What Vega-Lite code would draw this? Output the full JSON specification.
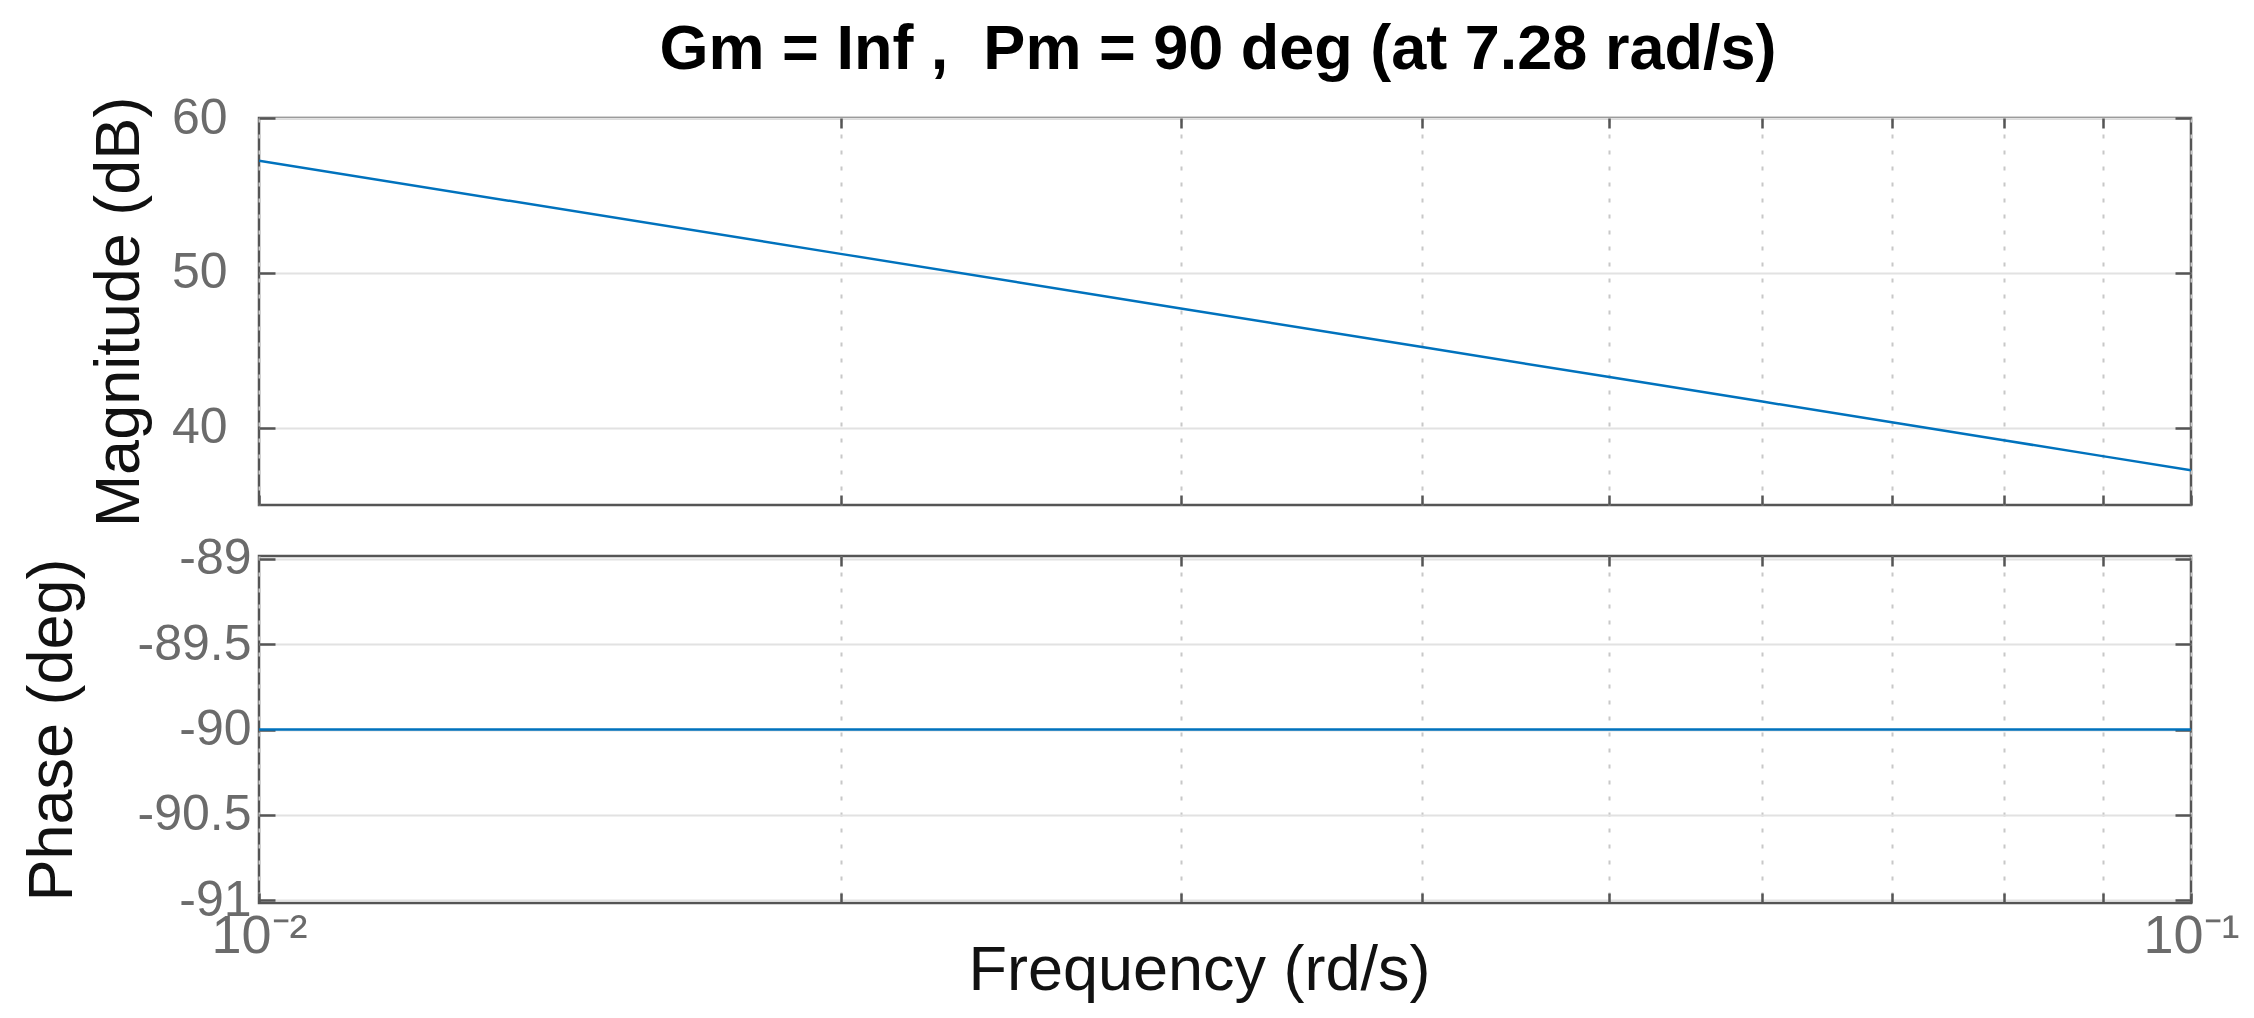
{
  "$schema": "https://vega.github.io/schema/vega-lite/v6.json",
  "background": "white",
  "padding": {"left": 19, "top": 18, "right": 10, "bottom": 5},
  "title": {"text": "Gm = Inf ,\u00a0 Pm = 90 deg (at 7.28 rad/s)", "font": "Liberation Sans", "fontSize": 63, "fontWeight": "bold", "color": "#000000", "anchor": "middle", "offset": 10, "dx": 88},
  "datasets": {
    "mag": [
      {"w": 0.01, "mag": 57.243},
      {"w": 0.02, "mag": 51.222},
      {"w": 0.03, "mag": 47.700},
      {"w": 0.04, "mag": 45.201},
      {"w": 0.05, "mag": 43.263},
      {"w": 0.06, "mag": 41.680},
      {"w": 0.07, "mag": 40.341},
      {"w": 0.08, "mag": 39.181},
      {"w": 0.09, "mag": 38.158},
      {"w": 0.1, "mag": 37.243}
    ],
    "phase": [
      {"w": 0.01, "phase": -90},
      {"w": 0.02, "phase": -90},
      {"w": 0.03, "phase": -90},
      {"w": 0.04, "phase": -90},
      {"w": 0.05, "phase": -90},
      {"w": 0.06, "phase": -90},
      {"w": 0.07, "phase": -90},
      {"w": 0.08, "phase": -90},
      {"w": 0.09, "phase": -90},
      {"w": 0.1, "phase": -90}
    ]
  },
  "config": {
    "view": {"stroke": "#555555", "strokeWidth": 2.5},
    "axis": {
      "labelFont": "Liberation Sans", "titleFont": "Liberation Sans",
      "labelColor": "#6b6b6b", "titleColor": "#111111",
      "labelFontSize": 50, "titleFontSize": 63, "titleFontWeight": "normal",
      "domain": false, "tickColor": "#555555", "tickWidth": 2.5
    }
  },
  "spacing": 51,
  "bounds": "flush",
  "vconcat": [
    {
      "width": 1932, "height": 387,
      "data": {"name": "mag"},
      "layer": [
        {
          "mark": {"type": "line", "color": "#0072BD", "strokeWidth": 2.5, "clip": true},
          "encoding": {
            "x": {"field": "w", "type": "quantitative",
              "scale": {"type": "log", "domain": [0.01, 0.1], "nice": false},
              "axis": {"orient": "bottom", "title": null, "labels": false,
                "values": [0.01, 0.02, 0.03, 0.04, 0.05, 0.06, 0.07, 0.08, 0.09, 0.1],
                "tickSize": -10, "grid": true, "gridDash": [4, 12], "gridColor": "#c8c8c8", "gridWidth": 2}},
            "y": {"field": "mag", "type": "quantitative",
              "scale": {"domain": [35, 60], "nice": false, "zero": false},
              "axis": {"orient": "left", "title": "Magnitude (dB)", "values": [40, 50, 60],
                "tickSize": -16, "grid": true, "gridColor": "#e2e2e2", "gridWidth": 2,
                "labelPadding": 48, "titlePadding": 20}}
          }
        },
        {
          "mark": {"type": "line", "opacity": 0},
          "encoding": {
            "x": {"field": "w", "type": "quantitative",
              "scale": {"type": "log", "domain": [0.01, 0.1], "nice": false},
              "axis": {"orient": "top", "title": null, "labels": false,
                "values": [0.02, 0.03, 0.04, 0.05, 0.06, 0.07, 0.08, 0.09],
                "tickSize": -10, "grid": false}},
            "y": {"field": "mag", "type": "quantitative",
              "scale": {"domain": [35, 60], "nice": false, "zero": false},
              "axis": {"orient": "right", "title": null, "labels": false, "values": [40, 50, 60],
                "tickSize": -16, "grid": false}}
          }
        }
      ],
      "resolve": {"axis": {"x": "independent", "y": "independent"}}
    },
    {
      "width": 1932, "height": 347,
      "data": {"name": "phase"},
      "layer": [
        {
          "mark": {"type": "line", "color": "#0072BD", "strokeWidth": 2.5, "clip": true},
          "encoding": {
            "x": {"field": "w", "type": "quantitative",
              "scale": {"type": "log", "domain": [0.01, 0.1], "nice": false},
              "axis": {"orient": "bottom", "title": "Frequency (rd/s)", "titleX": 940,
                "values": [0.01, 0.02, 0.03, 0.04, 0.05, 0.06, 0.07, 0.08, 0.09, 0.1],
                "labelExpr": "datum.value == 0.01 ? '10⁻²' : (datum.value == 0.1 ? '10⁻¹' : '')",
                "labelFlush": false, "labelOverlap": false, "labelFontSize": 54, "labelPadding": 16, "labelDx": -8,
                "tickSize": -10, "grid": true, "gridDash": [4, 12], "gridColor": "#c8c8c8", "gridWidth": 2,
                "titlePadding": -24}},
            "y": {"field": "phase", "type": "quantitative",
              "scale": {"domain": [-91.015, -88.985], "nice": false, "zero": false},
              "axis": {"orient": "left", "title": "Phase (deg)", "values": [-91, -90.5, -90, -89.5, -89],
                "labelExpr": "'' + datum.value",
                "tickSize": -16, "grid": true, "gridColor": "#e2e2e2", "gridWidth": 2,
                "labelPadding": 24, "titlePadding": 53}}
          }
        },
        {
          "mark": {"type": "line", "opacity": 0},
          "encoding": {
            "x": {"field": "w", "type": "quantitative",
              "scale": {"type": "log", "domain": [0.01, 0.1], "nice": false},
              "axis": {"orient": "top", "title": null, "labels": false,
                "values": [0.02, 0.03, 0.04, 0.05, 0.06, 0.07, 0.08, 0.09],
                "tickSize": -10, "grid": false}},
            "y": {"field": "phase", "type": "quantitative",
              "scale": {"domain": [-91.015, -88.985], "nice": false, "zero": false},
              "axis": {"orient": "right", "title": null, "labels": false, "values": [-91, -90.5, -90, -89.5, -89],
                "tickSize": -16, "grid": false}}
          }
        }
      ],
      "resolve": {"axis": {"x": "independent", "y": "independent"}}
    }
  ]
}
